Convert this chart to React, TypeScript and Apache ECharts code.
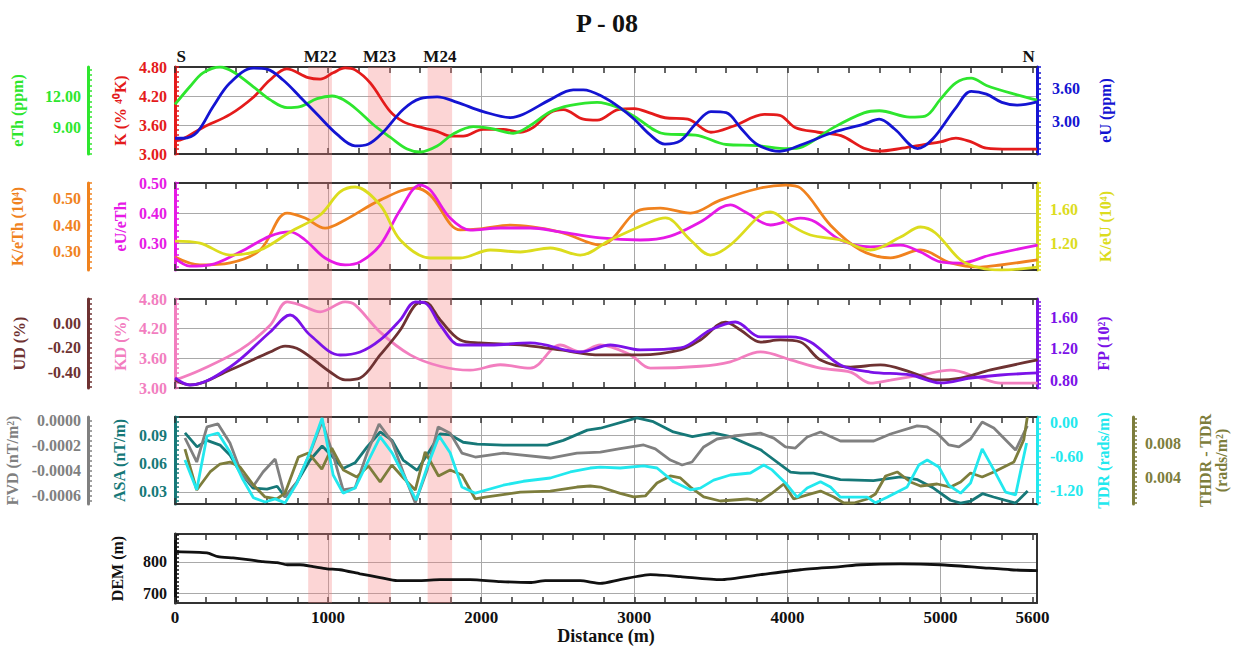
import React, { useEffect, useRef } from 'react';
import * as echarts from 'echarts';

const FONT = '"Liberation Serif", "Times New Roman", serif';
const X_MAX = 5630;

// ---------- markers / bands ----------
const markerNames = ['S', 'M22', 'M23', 'M24', 'N'];
const markerPos = [40, 948, 1335, 1730, 5575];
const bandStart = [870, 1260, 1650];
const bandEnd = [1025, 1410, 1810];
const distanceLabels = [0, 1000, 2000, 3000, 4000, 5000, 5600];

// ---------- panel 1 ----------
const kDist = [0, 52, 183, 360, 510, 620, 730, 870, 948, 1033, 1111, 1176, 1275, 1405, 1490, 1582, 1712, 1797, 1882, 2013, 2144, 2255, 2340, 2451, 2536, 2667, 2758, 2895, 3000, 3100, 3200, 3350, 3500, 3650, 3850, 3950, 4050, 4200, 4350, 4500, 4600, 4750, 4900, 5000, 5100, 5200, 5300, 5450, 5630];
const kVal = [3.27, 3.31, 3.55, 3.82, 4.17, 4.53, 4.76, 4.58, 4.55, 4.68, 4.78, 4.74, 4.47, 3.88, 3.67, 3.57, 3.47, 3.37, 3.37, 3.51, 3.51, 3.45, 3.55, 3.86, 3.92, 3.72, 3.70, 3.92, 3.94, 3.85, 3.75, 3.72, 3.45, 3.58, 3.82, 3.80, 3.55, 3.45, 3.38, 3.12, 3.06, 3.12, 3.20, 3.25, 3.33, 3.25, 3.12, 3.10, 3.10];
const thDist = [0, 98, 183, 294, 379, 510, 620, 732, 817, 928, 1026, 1098, 1189, 1294, 1405, 1516, 1601, 1712, 1817, 1948, 2059, 2209, 2320, 2451, 2582, 2758, 2895, 3000, 3200, 3400, 3600, 3800, 4000, 4100, 4300, 4500, 4600, 4800, 4900, 5000, 5100, 5200, 5300, 5500, 5630];
const thVal = [11.2, 12.9, 14.2, 14.75, 14.3, 12.9, 11.66, 10.9, 11.0, 11.75, 12.0, 11.66, 10.7, 9.3, 8.1, 6.97, 6.69, 7.25, 8.4, 9.1, 8.94, 8.47, 9.2, 10.5, 11.1, 11.4, 10.9, 10.06, 8.4, 8.3, 7.4, 7.3, 7.0, 7.2, 9.0, 10.4, 10.6, 10.0, 10.1, 11.7, 13.25, 13.7, 13.0, 12.1, 11.6];
const uDist = [0, 52, 144, 248, 360, 510, 601, 706, 817, 928, 1059, 1176, 1261, 1359, 1490, 1601, 1712, 1843, 2013, 2190, 2275, 2451, 2601, 2667, 2797, 2908, 3000, 3100, 3200, 3300, 3400, 3500, 3600, 3700, 3800, 3950, 4100, 4300, 4500, 4600, 4700, 4850, 4950, 5100, 5200, 5300, 5400, 5500, 5630];
const uVal = [2.69, 2.69, 2.8, 3.27, 3.71, 3.98, 3.96, 3.76, 3.45, 3.13, 2.76, 2.55, 2.58, 2.8, 3.22, 3.42, 3.45, 3.35, 3.18, 3.07, 3.13, 3.4, 3.58, 3.58, 3.45, 3.25, 3.04, 2.76, 2.58, 2.64, 2.95, 3.18, 3.16, 2.86, 2.58, 2.45, 2.58, 2.8, 2.95, 3.04, 2.86, 2.5, 2.68, 3.25, 3.55, 3.5, 3.35, 3.3, 3.36];

// ---------- panel 2 ----------
const kthDist = [0, 163, 360, 556, 732, 850, 980, 1111, 1340, 1569, 1667, 1863, 1993, 2190, 2516, 2778, 3039, 3170, 3366, 3562, 3824, 3987, 4085, 4281, 4477, 4673, 4869, 5065, 5261, 5392, 5634];
const kthVal = [0.279, 0.249, 0.257, 0.306, 0.446, 0.427, 0.389, 0.42, 0.495, 0.541, 0.514, 0.382, 0.386, 0.40, 0.374, 0.325, 0.458, 0.465, 0.446, 0.495, 0.541, 0.552, 0.541, 0.40, 0.306, 0.276, 0.306, 0.257, 0.241, 0.249, 0.268];
const uthDist = [0, 98, 229, 425, 621, 752, 850, 980, 1111, 1209, 1340, 1471, 1601, 1667, 1797, 1928, 2124, 2320, 2516, 2778, 3039, 3235, 3431, 3627, 3725, 3889, 4085, 4183, 4346, 4542, 4739, 4869, 4999, 5131, 5327, 5634];
const uthVal = [0.25, 0.223, 0.227, 0.27, 0.323, 0.337, 0.31, 0.25, 0.227, 0.237, 0.293, 0.41, 0.493, 0.477, 0.383, 0.343, 0.35, 0.35, 0.337, 0.317, 0.31, 0.323, 0.37, 0.427, 0.403, 0.36, 0.383, 0.37, 0.31, 0.287, 0.293, 0.27, 0.237, 0.233, 0.26, 0.293];
const kuDist = [0, 163, 360, 556, 752, 948, 1078, 1176, 1340, 1471, 1667, 1863, 2059, 2255, 2451, 2647, 2843, 3105, 3203, 3366, 3497, 3627, 3824, 3889, 4020, 4150, 4346, 4542, 4739, 4869, 4967, 5131, 5261, 5392, 5634];
const kuVal = [1.233, 1.21, 1.072, 1.13, 1.337, 1.532, 1.797, 1.854, 1.647, 1.245, 1.038, 1.038, 1.13, 1.107, 1.153, 1.072, 1.245, 1.452, 1.498, 1.245, 1.072, 1.187, 1.532, 1.567, 1.417, 1.302, 1.245, 1.13, 1.279, 1.394, 1.325, 1.015, 0.923, 0.9, 0.934];

// ---------- panel 3 ----------
const kdDist = [0, 163, 425, 621, 732, 817, 948, 1111, 1176, 1340, 1536, 1732, 1928, 2124, 2320, 2516, 2647, 2778, 2974, 3105, 3431, 3627, 3824, 4020, 4216, 4412, 4542, 4673, 4869, 5065, 5261, 5392, 5634];
const kdVal = [3.16, 3.36, 3.77, 4.27, 4.74, 4.68, 4.54, 4.74, 4.68, 4.13, 3.67, 3.44, 3.36, 3.47, 3.40, 3.87, 3.73, 3.87, 3.67, 3.40, 3.44, 3.53, 3.73, 3.57, 3.40, 3.32, 3.10, 3.16, 3.26, 3.36, 3.20, 3.10, 3.10];
const udDist = [0, 98, 360, 621, 719, 817, 1013, 1111, 1209, 1340, 1471, 1569, 1634, 1732, 1863, 1993, 2255, 2516, 2778, 3039, 3301, 3431, 3595, 3693, 3824, 3954, 4085, 4216, 4412, 4608, 4804, 4967, 5131, 5327, 5634];
const udVal = [-0.464, -0.505, -0.382, -0.235, -0.186, -0.218, -0.399, -0.464, -0.448, -0.259, -0.054, 0.151, 0.175, 0.028, -0.136, -0.161, -0.177, -0.218, -0.259, -0.259, -0.218, -0.136, 0.011, -0.054, -0.153, -0.136, -0.153, -0.30, -0.358, -0.341, -0.399, -0.464, -0.448, -0.382, -0.30];
const fpDist = [0, 98, 360, 621, 752, 882, 1078, 1209, 1340, 1471, 1569, 1634, 1732, 1863, 2059, 2320, 2647, 2843, 3039, 3301, 3497, 3660, 3824, 4020, 4150, 4346, 4542, 4804, 4999, 5196, 5392, 5634];
const fpVal = [0.827, 0.738, 0.967, 1.411, 1.627, 1.373, 1.119, 1.157, 1.31, 1.564, 1.792, 1.78, 1.50, 1.246, 1.246, 1.272, 1.157, 1.246, 1.183, 1.208, 1.437, 1.538, 1.348, 1.348, 1.284, 0.992, 0.903, 0.865, 0.764, 0.827, 0.865, 0.891];

// ---------- panel 4 ----------
const asaDist = [65, 144, 209, 294, 360, 425, 510, 601, 667, 719, 797, 882, 961, 1033, 1098, 1176, 1255, 1340, 1418, 1490, 1582, 1654, 1732, 1797, 1882, 1974, 2144, 2431, 2536, 2693, 2778, 3017, 3124, 3255, 3379, 3516, 3627, 3824, 4020, 4085, 4170, 4346, 4562, 4739, 4850, 4954, 5065, 5131, 5196, 5274, 5346, 5490, 5569];
const asaVal = [0.093, 0.078, 0.085, 0.080, 0.069, 0.051, 0.034, 0.033, 0.036, 0.0245, 0.0405, 0.064, 0.079, 0.067, 0.055, 0.061, 0.078, 0.094, 0.085, 0.064, 0.053, 0.0715, 0.092, 0.091, 0.083, 0.081, 0.080, 0.080, 0.085, 0.096, 0.098, 0.109, 0.105, 0.094, 0.089, 0.093, 0.089, 0.075, 0.051, 0.050, 0.050, 0.043, 0.042, 0.046, 0.043, 0.034, 0.021, 0.018, 0.020, 0.028, 0.0245, 0.018, 0.031];
const fvdDist = [65, 142, 209, 281, 359, 438, 512, 575, 654, 719, 797, 882, 961, 1033, 1098, 1176, 1255, 1333, 1418, 1492, 1569, 1647, 1719, 1797, 1874, 1961, 2144, 2451, 2625, 2778, 2898, 3061, 3137, 3235, 3312, 3377, 3453, 3540, 3649, 3824, 3911, 3987, 4052, 4129, 4216, 4346, 4564, 4673, 4847, 4913, 4978, 5054, 5120, 5196, 5272, 5348, 5490, 5567];
const fvdVal = [-0.000139, -0.000332, -0.00005, -0.000026, -0.000179, -0.000437, -0.000525, -0.000413, -0.000308, -0.000614, -0.000493, -0.00026, -0.000005, -0.000276, -0.000557, -0.000541, -0.00026, -0.000026, -0.00017, -0.00042, -0.00066, -0.000396, -0.00005, -0.0001, -0.00026, -0.000292, -0.00026, -0.0003, -0.00026, -0.000252, -0.000227, -0.000195, -0.000227, -0.000316, -0.000356, -0.000332, -0.000211, -0.000147, -0.000123, -0.0001, -0.00014, -0.000211, -0.00022, -0.000131, -0.000091, -0.000163, -0.000163, -0.000107, -0.000042, -0.00005, -0.0001, -0.000195, -0.000211, -0.000147, -0.00001, -0.000059, -0.000236, -0.000042];
const tdrDist = [65, 142, 209, 281, 359, 438, 512, 588, 654, 719, 797, 882, 961, 1033, 1098, 1176, 1255, 1340, 1418, 1492, 1575, 1647, 1725, 1797, 1874, 1961, 2144, 2275, 2451, 2582, 2712, 2778, 2908, 3061, 3148, 3257, 3366, 3431, 3518, 3627, 3758, 3845, 3900, 3987, 4063, 4129, 4216, 4281, 4346, 4521, 4575, 4651, 4782, 4858, 4913, 4989, 5054, 5131, 5196, 5272, 5348, 5425, 5490, 5562];
const tdrVal = [-0.656, -1.18, -0.234, -0.181, -0.516, -0.973, -1.32, -1.395, -1.34, -1.41, -1.06, -0.516, 0.082, -0.92, -1.24, -1.15, -0.71, -0.25, -0.53, -0.92, -1.36, -0.78, -0.234, -0.53, -1.13, -1.24, -1.10, -1.03, -0.973, -0.867, -0.797, -0.78, -0.797, -0.76, -0.797, -1.04, -1.18, -1.15, -1.01, -0.92, -0.885, -0.745, -0.83, -1.06, -1.31, -1.15, -1.04, -1.13, -1.31, -1.31, -1.41, -1.31, -1.13, -0.745, -0.656, -0.78, -1.10, -1.24, -1.06, -0.46, -0.83, -1.22, -1.27, -0.357];
const thdrDist = [65, 142, 229, 294, 359, 425, 512, 588, 665, 719, 806, 871, 959, 1024, 1100, 1187, 1264, 1340, 1416, 1492, 1569, 1634, 1721, 1797, 1874, 1961, 2037, 2255, 2451, 2625, 2712, 2778, 2908, 2995, 3072, 3148, 3235, 3301, 3366, 3453, 3562, 3736, 3824, 3900, 3976, 4041, 4129, 4216, 4303, 4368, 4434, 4521, 4575, 4641, 4717, 4804, 4869, 4978, 5065, 5131, 5196, 5272, 5348, 5479, 5544, 5567];
const thdrVal = [0.00737, 0.00247, 0.00463, 0.00558, 0.00582, 0.00522, 0.00307, 0.00164, 0.0014, 0.00211, 0.00642, 0.0069, 0.00498, 0.00749, 0.00486, 0.00403, 0.00534, 0.00343, 0.00546, 0.00391, 0.00247, 0.00702, 0.00415, 0.00486, 0.00427, 0.0014, 0.00164, 0.00223, 0.00235, 0.00283, 0.00295, 0.00283, 0.00208, 0.00164, 0.00176, 0.00331, 0.00415, 0.00391, 0.00283, 0.00164, 0.00116, 0.0014, 0.00116, 0.00211, 0.00319, 0.0014, 0.00188, 0.00235, 0.00164, 0.00092, 0.00092, 0.0014, 0.002, 0.00415, 0.00463, 0.00343, 0.00295, 0.00319, 0.00283, 0.00343, 0.0045, 0.00403, 0.00463, 0.00582, 0.0085, 0.0112];

// ---------- panel 5 ----------
const demDist = [0, 209, 281, 379, 490, 575, 667, 732, 817, 902, 993, 1078, 1209, 1340, 1451, 1601, 1732, 1928, 2124, 2320, 2418, 2647, 2778, 2908, 3105, 3301, 3562, 3824, 4085, 4346, 4477, 4739, 4999, 5261, 5458, 5634];
const demVal = [833, 829, 817, 813, 807, 801, 798, 791, 791, 785, 778, 775, 762, 750, 740, 740, 743, 743, 737, 734, 740, 740, 731, 743, 759, 753, 743, 759, 775, 785, 791, 794, 791, 782, 775, 772];

// ---------- helpers ----------
function tickList(min: number, max: number, anchor: number, step: number) {
  const out: number[] = [];
  const n0 = Math.ceil((min - anchor) / step - 1e-9);
  const n1 = Math.floor((max - anchor) / step + 1e-9);
  for (let n = n0; n <= n1; n++) out.push(+(anchor + n * step).toFixed(8));
  return out;
}

function pairs(xs: number[], ys: number[]) {
  return xs.map((x, i) => [x, ys[i]]);
}

const GRIDS = [
  { top: 67, h: 87 },
  { top: 183, h: 87 },
  { top: 299, h: 89 },
  { top: 417, h: 87 },
  { top: 534, h: 69 },
];

function buildOption() {
  const xAxes: any[] = [];
  const yAxes: any[] = [];
  const series: any[] = [];

  const frame = '#333';
  GRIDS.forEach((g, gi) => {
    const last = gi === GRIDS.length - 1;
    xAxes.push({
      type: 'value', gridIndex: gi, position: 'bottom', min: 0, max: X_MAX,
      axisLine: { show: true, onZero: false, lineStyle: { color: frame, width: 2 } },
      axisTick: { show: true, inside: true, length: 6, customValues: tickList(0, X_MAX, 0, 200), lineStyle: { color: frame, width: 1.5 } },
      axisLabel: last
        ? { show: true, customValues: distanceLabels, color: '#111', fontFamily: FONT, fontWeight: 'bold', fontSize: 17, margin: 6, formatter: (v: number) => String(Math.round(v)) }
        : { show: false },
      splitLine: { show: false },
      name: last ? 'Distance (m)' : '',
      nameLocation: 'middle', nameGap: 24,
      nameTextStyle: { color: '#111', fontFamily: FONT, fontWeight: 'bold', fontSize: 18 },
    });
    xAxes.push({
      type: 'value', gridIndex: gi, position: 'top', min: 0, max: X_MAX,
      axisLine: { show: true, onZero: false, lineStyle: { color: frame, width: 2 } },
      axisTick: { show: true, inside: true, length: 6, customValues: tickList(0, X_MAX, 0, 200), lineStyle: { color: frame, width: 1.5 } },
      axisLabel: gi === 0
        ? {
            show: true, customValues: markerPos, color: '#111', fontFamily: FONT, fontWeight: 'bold', fontSize: 17, margin: 2,
            formatter: (v: number) => { const i = markerPos.indexOf(v); return i >= 0 ? markerNames[i] : ''; },
          }
        : { show: false },
      splitLine: { show: false },
    });
    xAxes.push({
      type: 'value', gridIndex: gi, position: 'bottom', min: 0, max: X_MAX, interval: 1000,
      axisLine: { show: false, onZero: false }, axisTick: { show: false }, axisLabel: { show: false },
      splitLine: { show: true, lineStyle: { color: '#a9a9a9', width: 1 } },
    });
  });
  xAxes.push({ type: 'value', gridIndex: 5, min: 0, max: X_MAX, show: false });

  function addY(o: any) {
    const labels: number[] = o.labels;
    yAxes.push({
      type: 'value', gridIndex: o.grid, position: o.pos, offset: o.offset || 0, min: o.min, max: o.max,
      name: o.name, nameLocation: 'middle', nameGap: o.nameGap,
      nameTextStyle: { color: o.color, fontFamily: FONT, fontWeight: 'bold', fontSize: 16, lineHeight: 16, align: 'center' },
      axisLine: { show: true, onZero: false, lineStyle: { color: o.color, width: 3 } },
      axisTick: {
        show: true, inside: o.pos === 'left', length: 4,
        customValues: tickList(o.min, o.max, labels.length ? labels[0] : o.min, o.step),
        lineStyle: { color: o.color, width: 1.5 },
      },
      axisLabel: {
        show: labels.length > 0, customValues: labels, color: o.color, fontFamily: FONT, fontWeight: 'bold', fontSize: 16,
        margin: o.margin, formatter: (v: number) => Number(v).toFixed(o.dec),
      },
      splitLine: { show: false },
    });
    return yAxes.length - 1;
  }
  function addSplitY(grid: number, min: number, max: number, values: number[]) {
    yAxes.push({
      type: 'value', gridIndex: grid, position: 'left', min, max,
      axisLine: { show: false, onZero: false },
      axisTick: { show: false, customValues: values },
      axisLabel: { show: false },
      splitLine: { show: true, lineStyle: { color: '#a9a9a9', width: 1 } },
    });
    return yAxes.length - 1;
  }

  function line(grid: number, yi: number, xs: number[], ys: number[], color: string, smooth: number | boolean) {
    series.push({
      type: 'line', xAxisIndex: grid * 3, yAxisIndex: yi, data: pairs(xs, ys), symbol: 'none', showSymbol: false,
      smooth, lineStyle: { color, width: 2.8 }, itemStyle: { color }, z: 3, silent: true,
    });
  }

  const C = {
    k: '#E41B1B', th: '#2EE62E', u: '#1414D2',
    kth: '#F0821E', uth: '#E619E6', ku: '#DCDC1E',
    ud: '#6E3232', kd: '#F27EBF', fp: '#7B12E8',
    asa: '#167878', fvd: '#808080', tdr: '#22E8EE', thdr: '#7D7D3C', dem: '#111',
  };

  // panel 1
  const yK = addY({ grid: 0, pos: 'left', color: C.k, name: 'K (% ⁴⁰K)', min: 3.0, max: 4.8, labels: [3.0, 3.6, 4.2, 4.8], step: 0.1, dec: 2, nameGap: 42, margin: 8 });
  const yTh = addY({ grid: 0, pos: 'left', offset: 87, color: C.th, name: 'eTh (ppm)', min: 6.5, max: 14.75, labels: [9, 12], step: 0.5, dec: 2, nameGap: 63, margin: 7 });
  const yU = addY({ grid: 0, pos: 'right', color: C.u, name: 'eU (ppm)', min: 2.4, max: 4.0, labels: [3.0, 3.6], step: 0.1, dec: 2, nameGap: 60, margin: 15 });
  addSplitY(0, 3.0, 4.8, [3.6, 4.2]);
  line(0, yK, kDist, kVal, C.k, 0.35);
  line(0, yTh, thDist, thVal, C.th, 0.35);
  line(0, yU, uDist, uVal, C.u, 0.35);

  // panel 2
  const yUth = addY({ grid: 1, pos: 'left', color: C.uth, name: 'eU/eTh', min: 0.21, max: 0.5, labels: [0.3, 0.4, 0.5], step: 0.02, dec: 2, nameGap: 45, margin: 8 });
  const yKth = addY({ grid: 1, pos: 'left', offset: 87, color: C.kth, name: 'K/eTh (10⁴)', min: 0.23, max: 0.56, labels: [0.3, 0.4, 0.5], step: 0.02, dec: 2, nameGap: 63, margin: 7 });
  const yKu = addY({ grid: 1, pos: 'right', color: C.ku, name: 'K/eU (10⁴)', min: 0.9, max: 1.9, labels: [1.2, 1.6], step: 0.05, dec: 2, nameGap: 60, margin: 13 });
  addSplitY(1, 0.21, 0.5, [0.3, 0.4]);
  line(1, yKth, kthDist, kthVal, C.kth, 0.35);
  line(1, yUth, uthDist, uthVal, C.uth, 0.35);
  line(1, yKu, kuDist, kuVal, C.ku, 0.35);

  // panel 3
  const yKd = addY({ grid: 2, pos: 'left', color: C.kd, name: 'KD (%)', min: 3.0, max: 4.8, labels: [3.0, 3.6, 4.2, 4.8], step: 0.1, dec: 2, nameGap: 45, margin: 8 });
  const yUd = addY({ grid: 2, pos: 'left', offset: 87, color: C.ud, name: 'UD (%)', min: -0.53, max: 0.2, labels: [-0.4, -0.2, 0.0], step: 0.04, dec: 2, nameGap: 61, margin: 7 });
  const yFp = addY({ grid: 2, pos: 'right', color: C.fp, name: 'FP (10²)', min: 0.7, max: 1.83, labels: [0.8, 1.2, 1.6], step: 0.05, dec: 2, nameGap: 58, margin: 13 });
  addSplitY(2, 3.0, 4.8, [3.6, 4.2]);
  line(2, yKd, kdDist, kdVal, C.kd, 0.35);
  line(2, yUd, udDist, udVal, C.ud, 0.35);
  line(2, yFp, fpDist, fpVal, C.fp, 0.35);

  // panel 4
  const yAsa = addY({ grid: 3, pos: 'left', color: C.asa, name: 'ASA (nT/m)', min: 0.017, max: 0.11, labels: [0.03, 0.06, 0.09], step: 0.005, dec: 2, nameGap: 48, margin: 8 });
  const yFvd = addY({ grid: 3, pos: 'left', offset: 87, color: C.fvd, name: 'FVD (nT/m²)', min: -0.00067, max: 0.00003, labels: [-0.0006, -0.0004, -0.0002, 0], step: 0.00004, dec: 4, nameGap: 65, margin: 7 });
  const yTdr = addY({ grid: 3, pos: 'right', color: C.tdr, name: 'TDR (rads/m)', min: -1.43, max: 0.1, labels: [-1.2, -0.6, 0.0], step: 0.1, dec: 2, nameGap: 58, margin: 13 });
  const yThdr = addY({ grid: 3, pos: 'right', offset: 96, color: C.thdr, name: 'THDR - TDR\n(rads/m²)', min: 0.0008, max: 0.0112, labels: [0.004, 0.008], step: 0.0005, dec: 3, nameGap: 64, margin: 12 });
  addSplitY(3, 0.017, 0.11, [0.03, 0.06, 0.09]);
  line(3, yAsa, asaDist, asaVal, C.asa, false);
  line(3, yFvd, fvdDist, fvdVal, C.fvd, false);
  line(3, yThdr, thdrDist, thdrVal, C.thdr, false);
  line(3, yTdr, tdrDist, tdrVal, C.tdr, false);

  // panel 5
  const yDem = addY({ grid: 4, pos: 'left', color: '#111', name: 'DEM (m)', min: 668, max: 890, labels: [700, 800], step: 12.5, dec: 0, nameGap: 50, margin: 8 });
  yAxes.push({
    type: 'value', gridIndex: 4, position: 'right', min: 668, max: 890,
    axisLine: { show: true, onZero: false, lineStyle: { color: '#333', width: 2 } },
    axisTick: { show: false }, axisLabel: { show: false }, splitLine: { show: false },
  });
  addSplitY(4, 668, 890, [700, 800]);
  line(4, yDem, demDist, demVal, C.dem, 0.2);

  // bands
  const yBand = yAxes.length;
  yAxes.push({ type: 'value', gridIndex: 5, min: 0, max: 1, show: false });
  series.push({
    type: 'custom', coordinateSystem: 'cartesian2d', xAxisIndex: 15, yAxisIndex: yBand, silent: true, z: 1,
    data: bandStart.map((s, i) => [s, bandEnd[i]]),
    renderItem: (params: any, api: any) => {
      const p0 = api.coord([api.value(0), 1]);
      const p1 = api.coord([api.value(1), 0]);
      return {
        type: 'rect',
        shape: { x: p0[0], y: p0[1], width: p1[0] - p0[0], height: p1[1] - p0[1] },
        style: { fill: 'rgba(245,125,125,0.32)' },
      };
    },
  });

  const grids: any[] = GRIDS.map((g) => ({ left: 175, right: 198, top: g.top, height: g.h, outerBoundsMode: 'none' }));
  grids.push({ left: 175, right: 198, top: 67, height: 536, outerBoundsMode: 'none' });

  return {
    animation: false,
    backgroundColor: '#ffffff',
    textStyle: { fontFamily: FONT },
    grid: grids,
    xAxis: xAxes,
    yAxis: yAxes,
    series,
    graphic: [
      {
        type: 'text', x: 607, y: 23, silent: true,
        style: { text: 'P - 08', textAlign: 'center', textVerticalAlign: 'middle', fontFamily: FONT, fontWeight: 'bold', fontSize: 26, fill: '#111' },
      },
    ],
  };
}

export default function App() {
  const ref = useRef<HTMLDivElement>(null);
  useEffect(() => {
    if (!ref.current) return;
    const chart = echarts.init(ref.current, null, { renderer: 'svg' });
    chart.setOption(buildOption() as any);
    return () => chart.dispose();
  }, []);
  return (
    <div
      ref={ref}
      style={{ position: 'absolute', left: 0, top: 0, width: 1235, height: 647, background: '#fff' }}
    />
  );
}
